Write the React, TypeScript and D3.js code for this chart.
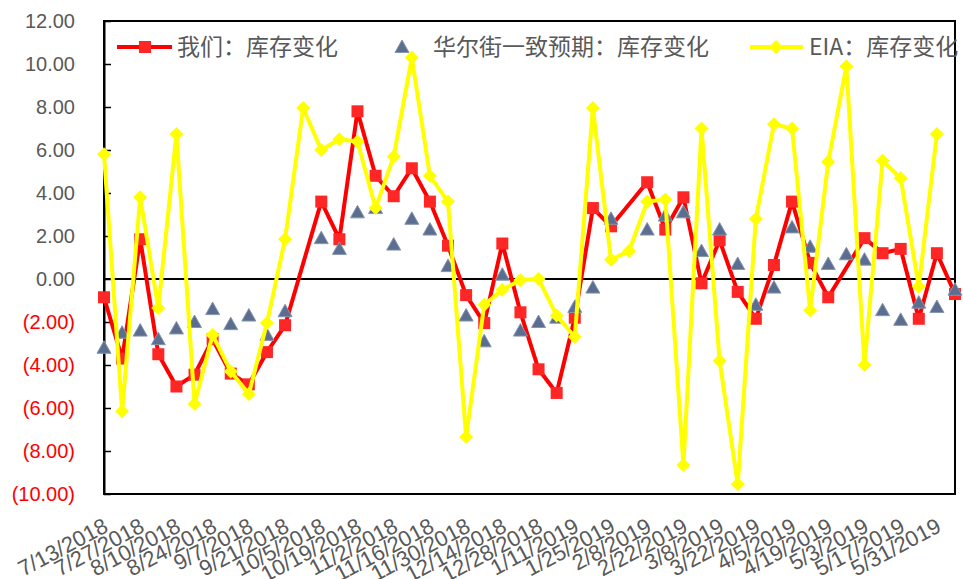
import React, { useEffect, useRef } from "react";
import * as d3 from "d3";

// weekly dates (EIA report weeks)
const dates = [
  "7/13/2018", "7/20/2018", "7/27/2018", "8/3/2018", "8/10/2018", "8/17/2018",
  "8/24/2018", "8/31/2018", "9/7/2018", "9/14/2018", "9/21/2018", "9/28/2018",
  "10/5/2018", "10/12/2018", "10/19/2018", "10/26/2018", "11/2/2018", "11/9/2018",
  "11/16/2018", "11/23/2018", "11/30/2018", "12/7/2018", "12/14/2018", "12/21/2018",
  "12/28/2018", "1/4/2019", "1/11/2019", "1/18/2019", "1/25/2019", "2/1/2019",
  "2/8/2019", "2/15/2019", "2/22/2019", "3/1/2019", "3/8/2019", "3/15/2019",
  "3/22/2019", "3/29/2019", "4/5/2019", "4/12/2019", "4/19/2019", "4/26/2019",
  "5/3/2019", "5/10/2019", "5/17/2019", "5/24/2019", "5/31/2019", "6/7/2019",
];

// 我们：库存变化
const ours: (number | null)[] = [
  -0.85, -3.7, 1.85, -3.5, -5.0, -4.45, -2.8, -4.4, -4.9, -3.4, -2.15, null,
  3.6, 1.85, 7.8, 4.8, 3.85, 5.15, 3.6, 1.55, -0.75, -2.05, 1.65, -1.55,
  -4.2, -5.3, -1.8, 3.3, 2.45, null, 4.5, 2.3, 3.8, -0.2, 1.8, -0.6,
  -1.85, 0.65, 3.6, 0.75, -0.85, null, 1.9, 1.2, 1.4, -1.85, 1.2, -0.7,
];

// 华尔街一致预期：库存变化
const consensus: (number | null)[] = [
  -3.2, -2.5, -2.4, -2.8, -2.3, -2.0, -1.4, -2.1, -1.7, -2.6, -1.5, null,
  1.9, 1.4, 3.1, 3.3, 1.6, 2.8, 2.3, 0.6, -1.7, -2.9, 0.2, -2.4,
  -2.0, -1.8, -1.3, -0.4, 2.8, null, 2.3, 2.95, 3.1, 1.3, 2.3, 0.7,
  -1.2, -0.4, 2.4, 1.5, 0.7, 1.15, 0.9, -1.45, -1.9, -1.1, -1.3, -0.5,
];

// EIA：库存变化
const eia: (number | null)[] = [
  5.8, -6.15, 3.8, -1.35, 6.75, -5.8, -2.6, -4.3, -5.35, -2.05, 1.85, 7.95,
  6.0, 6.5, 6.4, 3.3, 5.7, 10.3, 4.8, 3.6, -7.35, -1.2, -0.5, -0.05,
  0.0, -1.7, -2.7, 7.95, 0.9, 1.3, 3.6, 3.7, -8.65, 7.0, -3.8, -9.55,
  2.8, 7.2, 7.0, -1.45, 5.45, 9.9, -4.0, 5.5, 4.7, -0.35, 6.75, null,
];

const yTicks = [12, 10, 8, 6, 4, 2, 0, -2, -4, -6, -8, -10];

const W = 964;
const H = 579;
const left = 104;
const right = 955;
const top = 21;
const bottom = 494;

const numFont = "'Liberation Sans', Arial, sans-serif";
const cjkFont = "'Noto Sans CJK SC', 'Liberation Sans', sans-serif";

export default function App() {
  const svgRef = useRef<SVGSVGElement>(null);

  useEffect(() => {
    const svg = d3.select(svgRef.current);
    svg.selectAll("*").remove();

    const x = d3.scalePoint<number>().domain(d3.range(dates.length)).range([left, right]);
    const y = d3.scaleLinear().domain([-10, 12]).range([bottom, top]);

    svg.append("rect").attr("width", W).attr("height", H).attr("fill", "#fff");

    // plot border
    svg
      .append("rect")
      .attr("x", left)
      .attr("y", top)
      .attr("width", right - left)
      .attr("height", bottom - top)
      .attr("fill", "none")
      .attr("stroke", "#000")
      .attr("stroke-width", 2);

    // y axis
    const yAxis = d3
      .axisLeft(y)
      .tickValues(yTicks)
      .tickSizeInner(-7)
      .tickSizeOuter(0)
      .tickPadding(29)
      .tickFormat((d) => {
        const v = +d;
        return v < 0 ? `(${(-v).toFixed(2)})` : v.toFixed(2);
      });

    const gy = svg.append("g").attr("transform", `translate(${left},0)`).call(yAxis);
    gy.select(".domain").attr("stroke", "#000").attr("stroke-width", 2);
    gy.selectAll(".tick line").attr("stroke", "#000").attr("stroke-width", 1.5);
    gy.selectAll<SVGTextElement, number>(".tick text")
      .attr("font-family", numFont)
      .attr("font-size", 20)
      .attr("fill", (d) => (d < 0 ? "#FF0000" : "#595959"));

    // zero line
    svg
      .append("line")
      .attr("x1", left)
      .attr("x2", right)
      .attr("y1", y(0))
      .attr("y2", y(0))
      .attr("stroke", "#000")
      .attr("stroke-width", 2);

    // x labels, every other week
    svg
      .append("g")
      .selectAll("text")
      .data(dates.map((d, i) => ({ d, i })).filter((o) => o.i % 2 === 0))
      .enter()
      .append("text")
      .attr("transform", (o) => `translate(${x(o.i)! + 2},524) rotate(-28)`)
      .attr("text-anchor", "end")
      .attr("dy", "0.35em")
      .attr("font-family", numFont)
      .attr("font-size", 22)
      .attr("fill", "#595959")
      .text((o) => o.d);

    const pts = (arr: (number | null)[]) =>
      arr.map((v, i) => ({ v, i })).filter((p) => p.v !== null) as { v: number; i: number }[];

    const line = d3
      .line<{ v: number; i: number }>()
      .x((p) => x(p.i)!)
      .y((p) => y(p.v));

    // ours: red line + squares
    svg
      .append("path")
      .datum(pts(ours))
      .attr("d", line)
      .attr("fill", "none")
      .attr("stroke", "#FF0000")
      .attr("stroke-width", 4)
      .attr("stroke-linejoin", "round");
    svg
      .append("g")
      .selectAll("rect")
      .data(pts(ours))
      .enter()
      .append("rect")
      .attr("x", (p) => x(p.i)! - 6)
      .attr("y", (p) => y(p.v) - 6)
      .attr("width", 12)
      .attr("height", 12)
      .attr("fill", "#FF2626");

    // consensus: triangles only
    const tri = (cx: number, cy: number) =>
      `M${cx - 7},${cy + 5.5} L${cx + 7},${cy + 5.5} L${cx},${cy - 7} Z`;
    svg
      .append("g")
      .selectAll("path")
      .data(pts(consensus))
      .enter()
      .append("path")
      .attr("d", (p) => tri(x(p.i)!, y(p.v)))
      .attr("fill", "#5B6E8F")
      .attr("stroke", "#8595AE")
      .attr("stroke-width", 1);

    // EIA: yellow line + diamonds
    const dia = (cx: number, cy: number) =>
      `M${cx},${cy - 7} L${cx + 7},${cy} L${cx},${cy + 7} L${cx - 7},${cy} Z`;
    svg
      .append("path")
      .datum(pts(eia))
      .attr("d", line)
      .attr("fill", "none")
      .attr("stroke", "#FFFF00")
      .attr("stroke-width", 4)
      .attr("stroke-linejoin", "round");
    svg
      .append("g")
      .selectAll("path")
      .data(pts(eia))
      .enter()
      .append("path")
      .attr("d", (p) => dia(x(p.i)!, y(p.v)))
      .attr("fill", "#FFFF00");

    // legend
    const lg = svg.append("g");
    const ly = 47;
    lg.append("line").attr("x1", 117).attr("x2", 172).attr("y1", ly).attr("y2", ly)
      .attr("stroke", "#FF0000").attr("stroke-width", 4);
    lg.append("rect").attr("x", 139).attr("y", ly - 6).attr("width", 12).attr("height", 12)
      .attr("fill", "#FF2626");
    lg.append("path").attr("d", tri(402, ly)).attr("fill", "#5B6E8F").attr("stroke", "#8595AE");
    lg.append("line").attr("x1", 750).attr("x2", 803).attr("y1", ly).attr("y2", ly)
      .attr("stroke", "#FFFF00").attr("stroke-width", 4);
    lg.append("path").attr("d", dia(776, ly)).attr("fill", "#FFFF00");

    const legendText = [
      { t: "我们：库存变化", x: 177 },
      { t: "华尔街一致预期：库存变化", x: 433 },
      { t: "EIA：库存变化", x: 809 },
    ];
    lg.selectAll("text")
      .data(legendText)
      .enter()
      .append("text")
      .attr("x", (d) => d.x)
      .attr("y", ly)
      .attr("dy", "0.36em")
      .attr("font-family", cjkFont)
      .attr("font-size", 23)
      .attr("fill", "#595959")
      .text((d) => d.t);
  }, []);

  return (
    <div style={{ position: "absolute", left: 0, top: 0 }}>
      <svg ref={svgRef} width={W} height={H} />
    </div>
  );
}
